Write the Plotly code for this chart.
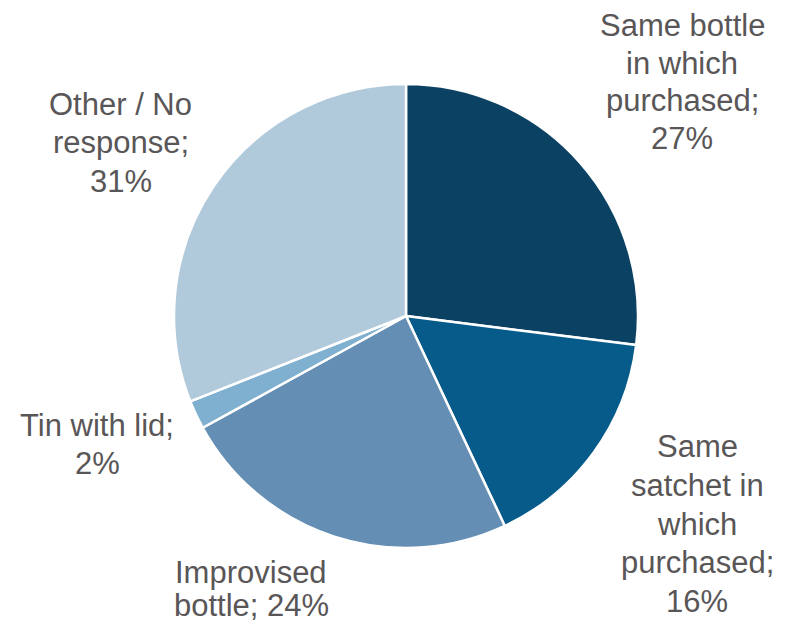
import plotly.graph_objects as go

# Storage containers reported by respondents
labels = ["Same bottle in which purchased", "Same satchet in which purchased",
          "Improvised bottle", "Tin with lid", "Other / No response"]
values = [27, 16, 24, 2, 31]
colors = ["#0B4263", "#065B8A", "#648EB4", "#7FB0CF", "#B0CADC"]

# Line-broken label text; each label is placed line by line
label_lines = [["Same bottle", "in which", "purchased;", "{v}%"],
               ["Same", "satchet in", "which", "purchased;", "{v}%"],
               ["Improvised", "bottle; {v}%"],
               ["Tin with lid;", "{v}%"],
               ["Other / No", "response;", "{v}%"]]
# (centre x, first line y, line step) in pixels of a 788x625 canvas
label_pos = [(682, 26, 37.5), (697, 447, 38.5), (251, 572, 33.5),
             (97, 425, 38), (121, 104, 38.5)]

W, H = 788, 625
cx, cy, r = 406, 316, 232

fig = go.Figure(go.Pie(
    labels=labels,
    values=values,
    sort=False,
    direction="clockwise",
    rotation=0,
    marker=dict(colors=colors, line=dict(color="white", width=2.5)),
    textinfo="none",
    hoverinfo="label+percent",
    domain=dict(x=[(cx - r) / W, (cx + r) / W], y=[1 - (cy + r) / H, 1 - (cy - r) / H]),
    showlegend=False,
))

for lines, v, (x, y0, step) in zip(label_lines, values, label_pos):
    for i, line in enumerate(lines):
        fig.add_annotation(
            text=line.format(v=v),
            x=x / W, y=1 - (y0 + i * step) / H, xref="paper", yref="paper",
            xanchor="center", yanchor="middle", align="center",
            showarrow=False,
            font=dict(family="Liberation Sans, Arial, sans-serif", size=31, color="#595657"),
        )

fig.update_layout(
    width=W, height=H,
    margin=dict(l=0, r=0, t=0, b=0),
    paper_bgcolor="white", plot_bgcolor="white",
)

fig.write_html("out.html")
